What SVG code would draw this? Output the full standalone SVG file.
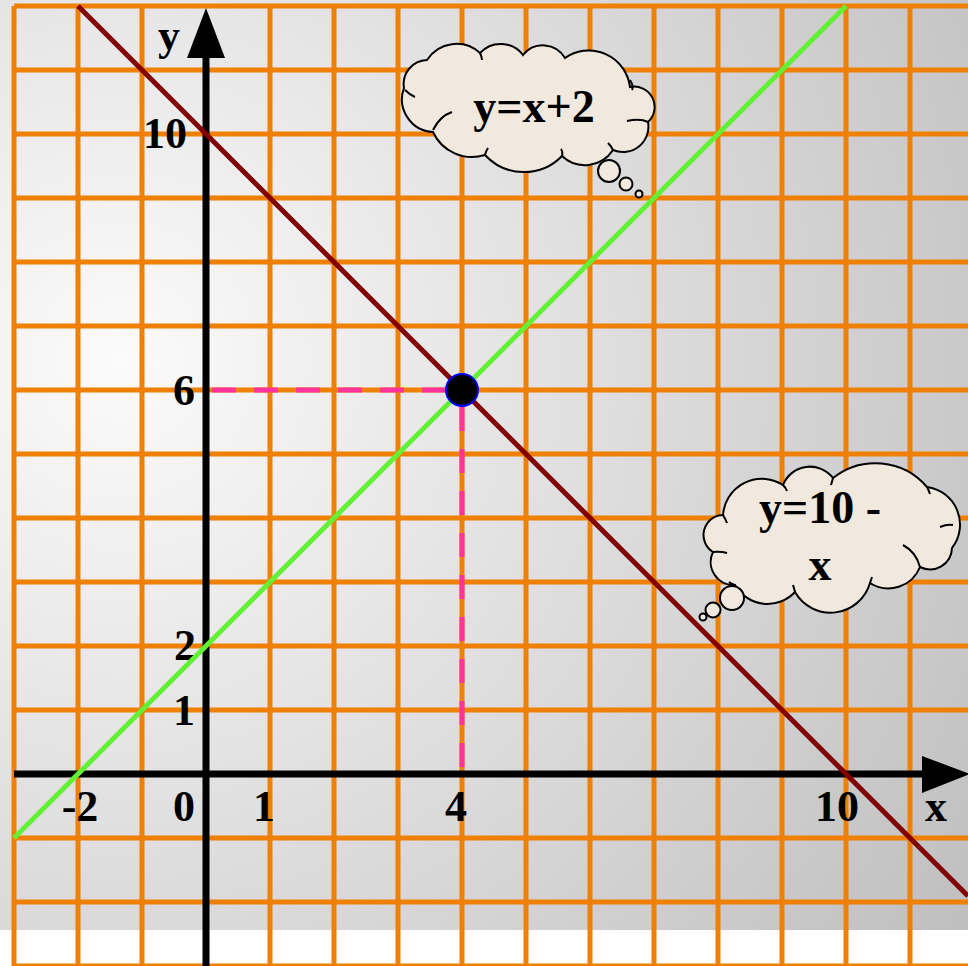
<svg xmlns="http://www.w3.org/2000/svg" width="968" height="966" viewBox="0 0 968 966">
<defs>
<radialGradient id="bg" gradientUnits="userSpaceOnUse" cx="120" cy="360" r="1050">
<stop offset="0" stop-color="#fbfbfb"/>
<stop offset="1" stop-color="#bdbdbd"/>
</radialGradient>
<style>
.grid line{stroke:#EF7F05;stroke-width:5}
.axis{stroke:#000;stroke-width:7}
.lbl{font-family:"Liberation Serif","Times New Roman",serif;font-weight:bold;font-size:44px;fill:#000;text-anchor:middle}
.ctext{font-family:"Liberation Serif","Times New Roman",serif;font-weight:bold;font-size:46px;fill:#000;text-anchor:middle}
.cloud{fill:#F1E9DE;stroke:#000;stroke-width:2}
.inner{fill:none;stroke:#000;stroke-width:2}
.dash{stroke:#FF3399;stroke-width:5;stroke-dasharray:24 18;fill:none}
</style>
</defs>
<rect x="0" y="0" width="968" height="930" fill="url(#bg)"/>
<rect x="0" y="930" width="968" height="36" fill="#fff"/>
<g id="grid" class="grid">
<line x1="14" y1="6" x2="14" y2="966"/>
<line x1="78" y1="6" x2="78" y2="966"/>
<line x1="142" y1="6" x2="142" y2="966"/>
<line x1="270" y1="6" x2="270" y2="966"/>
<line x1="334" y1="6" x2="334" y2="966"/>
<line x1="398" y1="6" x2="398" y2="966"/>
<line x1="462" y1="6" x2="462" y2="966"/>
<line x1="526" y1="6" x2="526" y2="966"/>
<line x1="590" y1="6" x2="590" y2="966"/>
<line x1="654" y1="6" x2="654" y2="966"/>
<line x1="718" y1="6" x2="718" y2="966"/>
<line x1="782" y1="6" x2="782" y2="966"/>
<line x1="846" y1="6" x2="846" y2="966"/>
<line x1="910" y1="6" x2="910" y2="966"/>
<line x1="14" y1="6" x2="968" y2="6"/>
<line x1="14" y1="70" x2="968" y2="70"/>
<line x1="14" y1="134" x2="968" y2="134"/>
<line x1="14" y1="198" x2="968" y2="198"/>
<line x1="14" y1="262" x2="968" y2="262"/>
<line x1="14" y1="326" x2="968" y2="326"/>
<line x1="14" y1="390" x2="968" y2="390"/>
<line x1="14" y1="454" x2="968" y2="454"/>
<line x1="14" y1="518" x2="968" y2="518"/>
<line x1="14" y1="582" x2="968" y2="582"/>
<line x1="14" y1="646" x2="968" y2="646"/>
<line x1="14" y1="710" x2="968" y2="710"/>
<line x1="14" y1="838" x2="968" y2="838"/>
<line x1="14" y1="902" x2="968" y2="902"/>
<line x1="14" y1="966" x2="968" y2="966"/>
</g>
<g id="labels">
<text class="lbl" x="169" y="50">y</text>
<text class="lbl" x="165" y="148">10</text>
<text class="lbl" x="184" y="405">6</text>
<text class="lbl" x="185" y="660">2</text>
<text class="lbl" x="184" y="725">1</text>
<text class="lbl" x="80" y="821">-2</text>
<text class="lbl" x="184" y="821">0</text>
<text class="lbl" x="264" y="821">1</text>
<text class="lbl" x="456" y="821">4</text>
<text class="lbl" x="837" y="821">10</text>
<text class="lbl" x="936" y="821">x</text>
</g>
<g id="axes">
<line class="axis" x1="206" y1="966" x2="206" y2="56"/>
<polygon points="206,8 187,58 225,58" fill="#000"/>
<line class="axis" x1="14" y1="774" x2="924" y2="774"/>
<polygon points="970,774 922,756 922,793" fill="#000"/>
</g>
<g id="connectors">
<path class="dash" d="M212,390 H462"/>
<path class="dash" d="M462,407 V774"/>
<line id="line-y-10-minus-x" x1="78" y1="6" x2="968" y2="896" stroke="#800000" stroke-width="5"/>
<line id="line-y-x-plus-2" x1="14" y1="838" x2="846" y2="6" stroke="#66F033" stroke-width="5"/>
</g>
<g id="intersection">
<circle cx="462" cy="390" r="16" fill="#000" stroke="#0000FF" stroke-width="2"/>
</g>
<g id="cloud1">
<path class="cloud" d="M404,88 A24,24 0 0 1 427,60 A35,35 0 0 1 480,53 A28,28 0 0 1 523,55 A25.5,25.5 0 0 1 565,58 A41.5,41.5 0 0 1 630,87 A20.4,20.4 0 0 1 648,122 A25.4,25.4 0 0 1 613,150 A33.5,33.5 0 0 1 562,156 A53,53 0 0 1 485,155 A43,43 0 0 1 433,132 A32.7,32.7 0 0 1 404,88 Z"/>
<path class="inner" d="M405,90 Q410,95 415,97 M433,130 Q440,116 452,112 M480,53 Q482,57 482,60 M630,80 Q634,86 632,90 M627,121 Q640,118 648,122 M613,150 Q611,146 608,143 M562,156 Q563,152 561,149 M485,155 Q486,151 488,148"/>
<circle class="cloud" cx="609" cy="171" r="11"/>
<circle class="cloud" cx="626" cy="184" r="6.5"/>
<circle class="cloud" cx="639" cy="194" r="3.5"/>
<text class="ctext" x="534" y="122">y=x+2</text>
</g>
<g id="cloud2">
<path class="cloud" d="M713,552 A20,20 0 0 1 723,515 A39,39 0 0 1 783,485 A29,29 0 0 1 833,478 A68,68 0 0 1 927,487 A38,38 0 0 1 952,548 A22,22 0 0 1 920,567 A34,34 0 0 1 870,583 A41,41 0 0 1 795,592 A37.5,37.5 0 0 1 735,585 A23,23 0 0 1 713,552 Z"/>
<path class="inner" d="M723,515 Q726,520 727,523 M783,485 Q786,488 787,491 M833,478 Q832,482 831,485 M927,487 Q929,491 930,494 M940,527 Q947,524 953,525 M903,545 Q916,552 920,567 M870,583 Q871,580 872,577 M795,592 Q794,588 793,585 M735,585 Q731,584 729,582 M713,552 Q720,551 727,553"/>
<circle class="cloud" cx="732" cy="598" r="12"/>
<circle class="cloud" cx="713" cy="610" r="7.5"/>
<circle class="cloud" cx="703" cy="617" r="3.5"/>
<text class="ctext" x="820" y="523">y=10 -</text>
<text class="ctext" x="820" y="580">x</text>
</g>
</svg>
